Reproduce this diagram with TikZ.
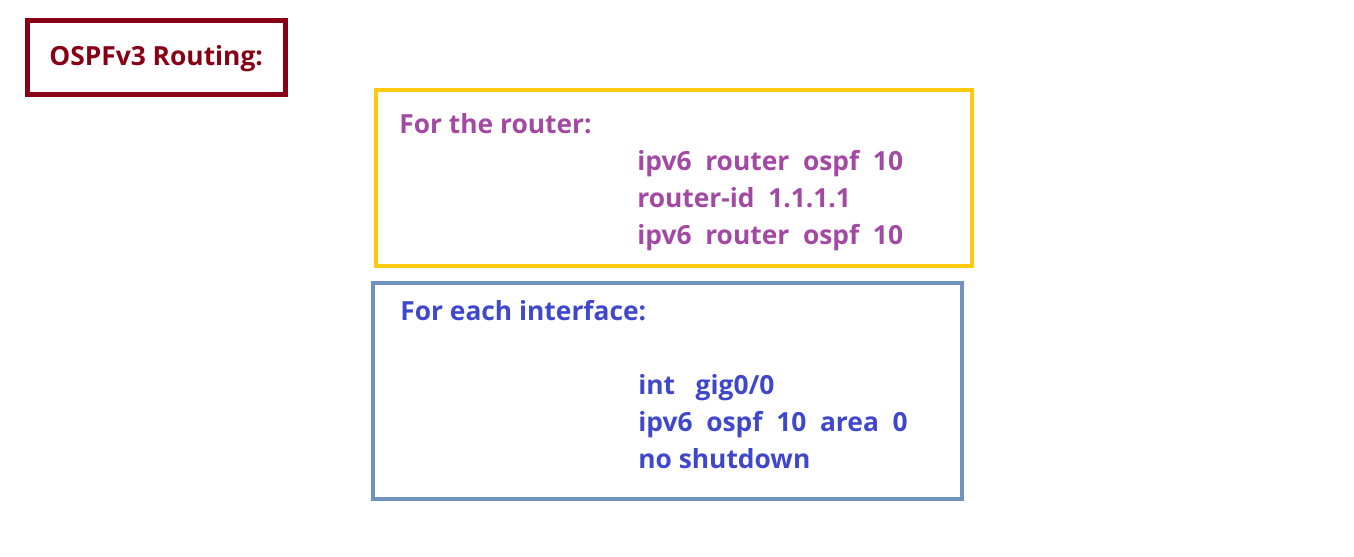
\documentclass[tikz,border=0pt]{standalone}
\usepackage{fontspec}
\setmainfont{Open Sans}
\usetikzlibrary{positioning}

\definecolor{titlered}{HTML}{880015}
\definecolor{frameyellow}{HTML}{FFC90E}
\definecolor{routerpurple}{HTML}{A349A4}
\definecolor{frameblue}{HTML}{7092BE}
\definecolor{intblue}{HTML}{3F48CC}

\tikzset{
  frame/.style={draw, line width=2.3pt, minimum width=#1, anchor=north west, inner sep=0pt},
  cmd/.style={anchor=base west, inner sep=0pt, font=\fontsize{15}{17}\selectfont\bfseries}
}

\begin{document}
\begin{tikzpicture}[x=0.02cm, y=-0.02cm]
\useasboundingbox (0,0) rectangle (1354,556);
% title
\node[frame=258*0.02cm, minimum height=74*0.02cm, draw=titlered, line width=3pt] (titlebox) at (25,18) {};
\node[cmd, text=titlered] (title) at (49,65) {OSPFv3 Routing:};
% router part
\node[frame=596*0.02cm, minimum height=176*0.02cm, draw=frameyellow] (routerbox) at (374,88) {};
\node[cmd, text=routerpurple] (routerhead) at (399,133) {For the router:};
\node[cmd, text=routerpurple] (routerone) at (637,170) {ipv6~~router~~ospf~~10};
\node[cmd, text=routerpurple] (routertwo) at (637,207) {router-id~~1.1.1.1};
\node[cmd, text=routerpurple] (routerthree) at (637,244) {ipv6~~router~~ospf~~10};
% interface part
\node[frame=589*0.02cm, minimum height=216*0.02cm, draw=frameblue] (intbox) at (371,281) {};
\node[cmd, text=intblue] (inthead) at (400,320) {For each interface:};
\node[cmd, text=intblue] (intone) at (638,394) {int~~~gig0/0};
\node[cmd, text=intblue] (inttwo) at (638,431) {ipv6~~ospf~~10~~area~~0};
\node[cmd, text=intblue] (intthree) at (638,468) {no shutdown};
\end{tikzpicture}
\end{document}
